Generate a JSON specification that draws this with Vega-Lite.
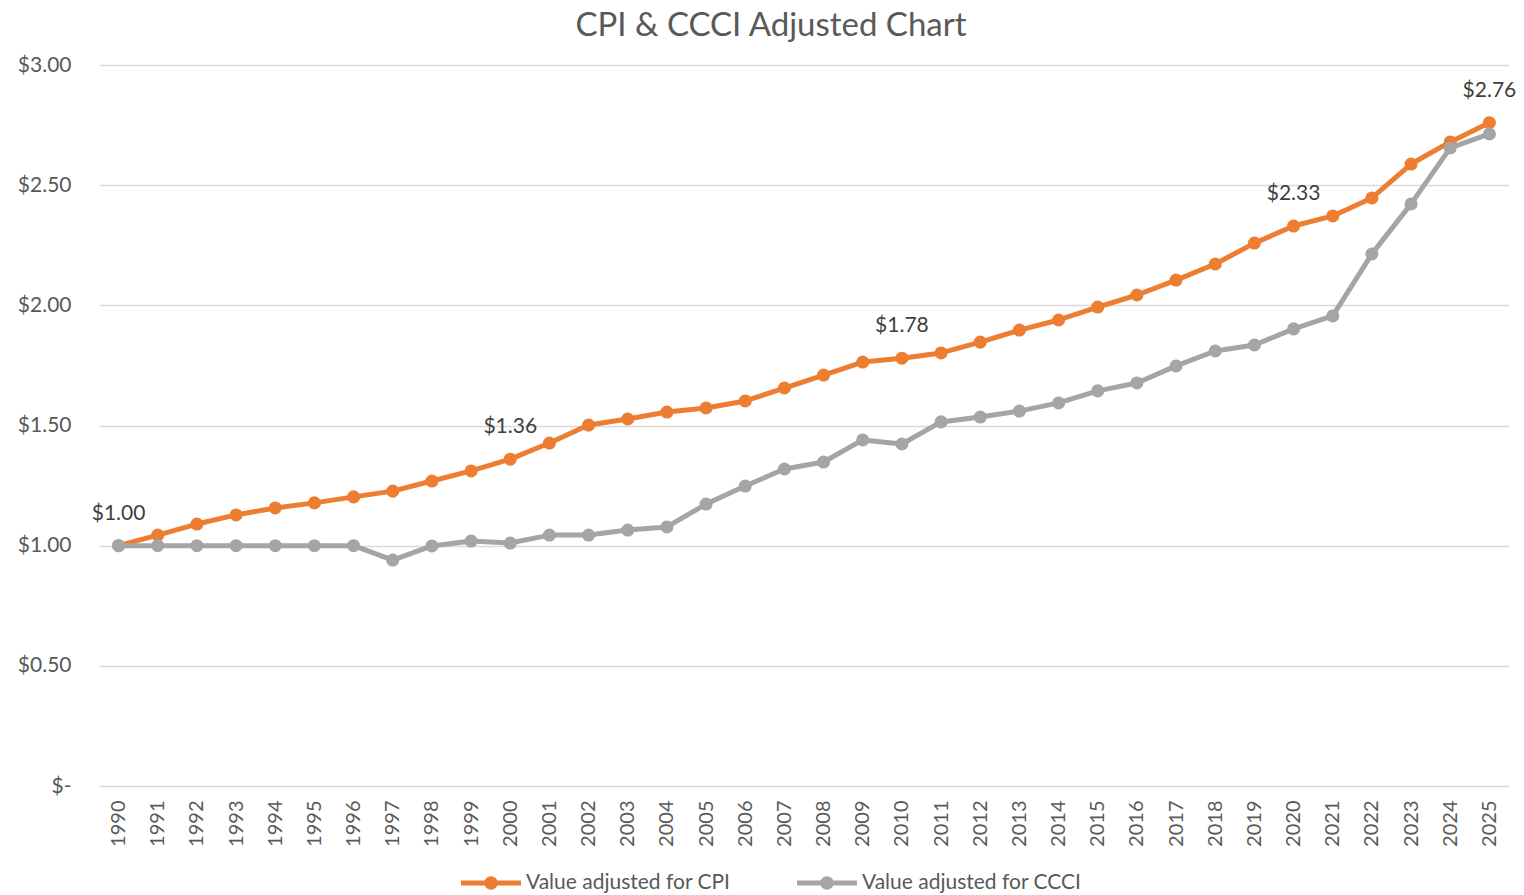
{
  "$schema": "https://vega.github.io/schema/vega-lite/v6.json",
  "autosize": {"type": "none"},
  "width": 1410,
  "height": 721,
  "padding": {"left": 99, "top": 65, "right": 15, "bottom": 109},
  "background": "white",
  "config": {
    "font": "Lato",
    "view": {"stroke": null}
  },
  "title": {
    "text": "CPI & CCCI Adjusted Chart",
    "fontSize": 33,
    "font": "Lato",
    "fontWeight": "normal",
    "color": "#595959",
    "anchor": "middle",
    "dx": -33,
    "offset": 11
  },
  "data": {
    "values": [
      {"year": 1990, "series": "Value adjusted for CPI", "value": 1.00},
      {"year": 1991, "series": "Value adjusted for CPI", "value": 1.044},
      {"year": 1992, "series": "Value adjusted for CPI", "value": 1.09},
      {"year": 1993, "series": "Value adjusted for CPI", "value": 1.128},
      {"year": 1994, "series": "Value adjusted for CPI", "value": 1.157},
      {"year": 1995, "series": "Value adjusted for CPI", "value": 1.178},
      {"year": 1996, "series": "Value adjusted for CPI", "value": 1.203},
      {"year": 1997, "series": "Value adjusted for CPI", "value": 1.227},
      {"year": 1998, "series": "Value adjusted for CPI", "value": 1.269},
      {"year": 1999, "series": "Value adjusted for CPI", "value": 1.311},
      {"year": 2000, "series": "Value adjusted for CPI", "value": 1.36},
      {"year": 2001, "series": "Value adjusted for CPI", "value": 1.427},
      {"year": 2002, "series": "Value adjusted for CPI", "value": 1.502},
      {"year": 2003, "series": "Value adjusted for CPI", "value": 1.527},
      {"year": 2004, "series": "Value adjusted for CPI", "value": 1.556},
      {"year": 2005, "series": "Value adjusted for CPI", "value": 1.573},
      {"year": 2006, "series": "Value adjusted for CPI", "value": 1.602},
      {"year": 2007, "series": "Value adjusted for CPI", "value": 1.656},
      {"year": 2008, "series": "Value adjusted for CPI", "value": 1.710},
      {"year": 2009, "series": "Value adjusted for CPI", "value": 1.764},
      {"year": 2010, "series": "Value adjusted for CPI", "value": 1.78},
      {"year": 2011, "series": "Value adjusted for CPI", "value": 1.802},
      {"year": 2012, "series": "Value adjusted for CPI", "value": 1.847},
      {"year": 2013, "series": "Value adjusted for CPI", "value": 1.897},
      {"year": 2014, "series": "Value adjusted for CPI", "value": 1.939},
      {"year": 2015, "series": "Value adjusted for CPI", "value": 1.993},
      {"year": 2016, "series": "Value adjusted for CPI", "value": 2.043},
      {"year": 2017, "series": "Value adjusted for CPI", "value": 2.105},
      {"year": 2018, "series": "Value adjusted for CPI", "value": 2.172},
      {"year": 2019, "series": "Value adjusted for CPI", "value": 2.259},
      {"year": 2020, "series": "Value adjusted for CPI", "value": 2.33},
      {"year": 2021, "series": "Value adjusted for CPI", "value": 2.372},
      {"year": 2022, "series": "Value adjusted for CPI", "value": 2.447},
      {"year": 2023, "series": "Value adjusted for CPI", "value": 2.588},
      {"year": 2024, "series": "Value adjusted for CPI", "value": 2.68},
      {"year": 2025, "series": "Value adjusted for CPI", "value": 2.76},
      {"year": 1990, "series": "Value adjusted for CCCI", "value": 1.00},
      {"year": 1991, "series": "Value adjusted for CCCI", "value": 1.00},
      {"year": 1992, "series": "Value adjusted for CCCI", "value": 1.00},
      {"year": 1993, "series": "Value adjusted for CCCI", "value": 1.00},
      {"year": 1994, "series": "Value adjusted for CCCI", "value": 1.00},
      {"year": 1995, "series": "Value adjusted for CCCI", "value": 1.00},
      {"year": 1996, "series": "Value adjusted for CCCI", "value": 1.00},
      {"year": 1997, "series": "Value adjusted for CCCI", "value": 0.940},
      {"year": 1998, "series": "Value adjusted for CCCI", "value": 0.999},
      {"year": 1999, "series": "Value adjusted for CCCI", "value": 1.019},
      {"year": 2000, "series": "Value adjusted for CCCI", "value": 1.011},
      {"year": 2001, "series": "Value adjusted for CCCI", "value": 1.044},
      {"year": 2002, "series": "Value adjusted for CCCI", "value": 1.044},
      {"year": 2003, "series": "Value adjusted for CCCI", "value": 1.065},
      {"year": 2004, "series": "Value adjusted for CCCI", "value": 1.078},
      {"year": 2005, "series": "Value adjusted for CCCI", "value": 1.173},
      {"year": 2006, "series": "Value adjusted for CCCI", "value": 1.248},
      {"year": 2007, "series": "Value adjusted for CCCI", "value": 1.319},
      {"year": 2008, "series": "Value adjusted for CCCI", "value": 1.348},
      {"year": 2009, "series": "Value adjusted for CCCI", "value": 1.440},
      {"year": 2010, "series": "Value adjusted for CCCI", "value": 1.423},
      {"year": 2011, "series": "Value adjusted for CCCI", "value": 1.515},
      {"year": 2012, "series": "Value adjusted for CCCI", "value": 1.535},
      {"year": 2013, "series": "Value adjusted for CCCI", "value": 1.560},
      {"year": 2014, "series": "Value adjusted for CCCI", "value": 1.594},
      {"year": 2015, "series": "Value adjusted for CCCI", "value": 1.644},
      {"year": 2016, "series": "Value adjusted for CCCI", "value": 1.677},
      {"year": 2017, "series": "Value adjusted for CCCI", "value": 1.748},
      {"year": 2018, "series": "Value adjusted for CCCI", "value": 1.810},
      {"year": 2019, "series": "Value adjusted for CCCI", "value": 1.835},
      {"year": 2020, "series": "Value adjusted for CCCI", "value": 1.902},
      {"year": 2021, "series": "Value adjusted for CCCI", "value": 1.956},
      {"year": 2022, "series": "Value adjusted for CCCI", "value": 2.214},
      {"year": 2023, "series": "Value adjusted for CCCI", "value": 2.422},
      {"year": 2024, "series": "Value adjusted for CCCI", "value": 2.655},
      {"year": 2025, "series": "Value adjusted for CCCI", "value": 2.713}
    ]
  },
  "encoding": {
    "x": {
      "field": "year",
      "type": "ordinal",
      "scale": {"type": "point", "padding": 0.5},
      "axis": {
        "title": null,
        "labelAngle": -90,
        "labelFontSize": 20,
        "labelColor": "#595959",
        "labelFont": "Lato",
        "labelPadding": 14,
        "ticks": false,
        "domain": false,
        "grid": false
      }
    },
    "y": {
      "field": "value",
      "type": "quantitative",
      "scale": {"domain": [0, 3]},
      "axis": {
        "title": null,
        "values": [0, 0.5, 1, 1.5, 2, 2.5, 3],
        "labelExpr": "datum.value == 0 ? '$-' : '$' + format(datum.value, '.2f')",
        "labelFontSize": 21,
        "labelColor": "#595959",
        "labelFont": "Lato",
        "labelPadding": 28,
        "ticks": false,
        "domain": false,
        "grid": true,
        "gridColor": "#d9d9d9",
        "gridWidth": 1.5,
        "encode": {
          "labels": {
            "update": {
              "dx": {"signal": "datum.value === 0 ? -11 : 0"}
            }
          }
        }
      }
    },
    "color": {
      "field": "series",
      "type": "nominal",
      "scale": {
        "domain": ["Value adjusted for CPI", "Value adjusted for CCCI"],
        "range": ["#ED7D31", "#A5A5A5"]
      },
      "legend": {
        "title": null,
        "orient": "none",
        "direction": "horizontal",
        "legendX": 377,
        "legendY": 803,
        "labelFontSize": 21,
        "labelFont": "Lato",
        "labelColor": "#595959",
        "labelLimit": 400,
        "symbolType": "M-2,-0.17 L2,-0.17 L2,0.17 L-2,0.17 Z M0.45,0 A0.45,0.45 0 1,1 -0.45,0 A0.45,0.45 0 1,1 0.45,0 Z",
        "symbolSize": 900,
        "symbolStrokeWidth": 0,
        "symbolOpacity": 1,
        "labelOffset": 20,
        "columnPadding": 66
      }
    }
  },
  "layer": [
    {
      "transform": [{"filter": "datum.series == 'Value adjusted for CPI'"}],
      "mark": {"type": "line", "strokeWidth": 5, "strokeCap": "round", "strokeJoin": "round"}
    },
    {
      "transform": [{"filter": "datum.series == 'Value adjusted for CPI'"}],
      "mark": {"type": "point", "filled": true, "opacity": 1, "size": 170}
    },
    {
      "transform": [{"filter": "datum.series == 'Value adjusted for CCCI'"}],
      "mark": {"type": "line", "strokeWidth": 5, "strokeCap": "round", "strokeJoin": "round"}
    },
    {
      "transform": [{"filter": "datum.series == 'Value adjusted for CCCI'"}],
      "mark": {"type": "point", "filled": true, "opacity": 1, "size": 170}
    },
    {
      "transform": [
        {"filter": "datum.series == 'Value adjusted for CPI' && (datum.year == 1990 || datum.year == 2000 || datum.year == 2010 || datum.year == 2020 || datum.year == 2025)"}
      ],
      "mark": {"type": "text", "dy": -32, "fontSize": 21, "font": "Lato", "color": "#404040", "baseline": "middle"},
      "encoding": {
        "text": {"field": "value", "type": "quantitative", "format": "$.2f"},
        "color": {"value": "#404040"}
      }
    }
  ]
}
